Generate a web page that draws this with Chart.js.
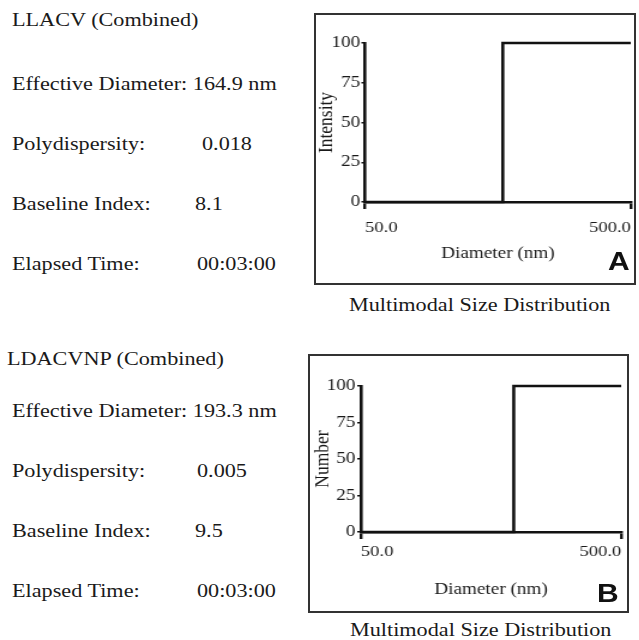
<!DOCTYPE html>
<html>
<head>
<meta charset="utf-8">
<script src="https://cdn.jsdelivr.net/npm/chart.js@4/dist/chart.umd.min.js"></script>
<style>
  body { margin: 0; width: 639px; height: 640px; position: relative; background: #fff; overflow: hidden;
         font-family: "Liberation Serif", "Times New Roman", serif; color: #1a1a1a; }
  /* the scan is a bit stretched sideways, so text and charts get scaleX too */
  .t { position: absolute; white-space: nowrap; font-size: 18.5px; line-height: 18.5px;
       transform: scaleX(1.2); transform-origin: 0 0; }
  .box { position: absolute; border: 2px solid #333; box-sizing: border-box; }
  .wrap { position: absolute; transform: scaleX(1.2); transform-origin: 0 0; }
  .wrap canvas { display: block; }
  .letter { position: absolute; font-family: "Liberation Sans", Arial, sans-serif; font-weight: bold;
            font-size: 25px; line-height: 25px; color: #111; transform: scaleX(1.2); transform-origin: 0 0; }
</style>
</head>
<body>

<!-- panel A text -->
<div class="t" style="left:12px; top:11px">LLACV (Combined)</div>
<div class="t" style="left:12px; top:75px">Effective Diameter: 164.9 nm</div>
<div class="t" style="left:12px; top:135px">Polydispersity:</div>
<div class="t" style="left:202px; top:135px">0.018</div>
<div class="t" style="left:12px; top:195px">Baseline Index:</div>
<div class="t" style="left:195px; top:195px">8.1</div>
<div class="t" style="left:12px; top:255px">Elapsed Time:</div>
<div class="t" style="left:197px; top:255px">00:03:00</div>

<div class="box" style="left:314px; top:13px; width:322px; height:272px"></div>
<div class="wrap" style="left:314px; top:13px"><canvas id="chartA" width="268" height="272"></canvas></div>
<div class="letter" style="left:608px; top:249px">A</div>
<div class="t" style="left:349px; top:296px">Multimodal Size Distribution</div>

<!-- panel B text -->
<div class="t" style="left:7px; top:350px">LDACVNP (Combined)</div>
<div class="t" style="left:12px; top:402px">Effective Diameter: 193.3 nm</div>
<div class="t" style="left:12px; top:462px">Polydispersity:</div>
<div class="t" style="left:197px; top:462px">0.005</div>
<div class="t" style="left:12px; top:522px">Baseline Index:</div>
<div class="t" style="left:195px; top:522px">9.5</div>
<div class="t" style="left:12px; top:582px">Elapsed Time:</div>
<div class="t" style="left:197px; top:582px">00:03:00</div>

<div class="box" style="left:308px; top:354px; width:321px; height:259px"></div>
<div class="wrap" style="left:308px; top:354px"><canvas id="chartB" width="267" height="259"></canvas></div>
<div class="letter" style="left:597px; top:581px">B</div>
<div class="t" style="left:350px; top:621px">Multimodal Size Distribution</div>

<script>
// size distributions (step at the effective diameter)
const diameterA = [50, 164.9, 500];
const intensityA = [0, 100, 100];
const diameterB = [50, 193.3, 500];
const numberB = [0, 100, 100];

const xTickValues = [50, 500];
const yMin = 0, yMax = 100, yStep = 25;

Chart.defaults.font.family = '"Liberation Serif", "Times New Roman", serif';
Chart.defaults.color = '#1a1a1a';

function makeChart(id, xs, ys, yTitle, lay) {
  const ctx = document.getElementById(id).getContext('2d');
  return new Chart(ctx, {
    type: 'scatter',
    data: {
      datasets: [{
        data: xs.map((d, i) => ({ x: d, y: ys[i] })),
        showLine: true,
        stepped: 'before',
        borderColor: '#111',
        borderWidth: 2.6,
        pointRadius: 0,
        clip: false
      }]
    },
    options: {
      responsive: false,
      animation: false,
      layout: { padding: { left: 0, top: lay.top, right: lay.right, bottom: 0 } },
      plugins: { legend: { display: false }, tooltip: { enabled: false } },
      scales: {
        x: {
          type: 'logarithmic',
          min: 50,
          max: 500,
          afterBuildTicks: s => { s.ticks = xTickValues.map(v => ({ value: v })); },
          afterFit: s => { s.height = lay.xH; s.paddingLeft = 0; s.paddingRight = 0; },
          border: { display: true, color: '#111', width: 2.6 },
          grid: { drawOnChartArea: false, drawTicks: true, tickLength: 7, color: '#111', lineWidth: 2.4 },
          ticks: {
            align: 'inner',
            maxRotation: 0,
            padding: lay.xPad,
            font: { size: 15.5 },
            callback: v => Number(v).toFixed(1)
          },
          title: { display: true, text: 'Diameter (nm)', font: { size: 16 }, padding: { top: 0, bottom: lay.xTitlePad } }
        },
        y: {
          min: yMin,
          max: yMax,
          afterFit: s => { s.width = lay.yW; s.paddingTop = 0; s.paddingBottom = 0; },
          border: { display: true, color: '#111', width: 2.6 },
          grid: { drawOnChartArea: false, drawTicks: true, tickLength: 3, color: '#111', lineWidth: 1.5 },
          ticks: { stepSize: yStep, padding: lay.yPad, font: { size: 16 } },
          title: { display: true, text: yTitle, font: { size: 17.5 }, padding: { top: lay.yTitlePad, bottom: 0 } }
        }
      }
    }
  });
}

makeChart('chartA', diameterA, intensityA, 'Intensity',
  { top: 30, right: 4, xH: 83, yW: 42.5, xPad: 10, xTitlePad: 22, yPad: 1, yTitlePad: 0 });
makeChart('chartB', diameterB, numberB, 'Number',
  { top: 32, right: 6, xH: 81, yW: 44, xPad: 4, xTitlePad: 14, yPad: 1.5, yTitlePad: 2 });
</script>
</body>
</html>
